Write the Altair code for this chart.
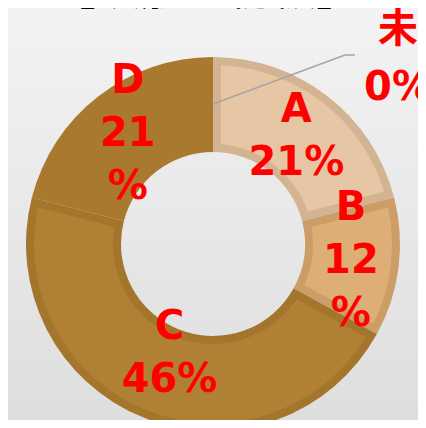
import altair as alt
import pandas as pd

# ---- data ----
categories = ["未", "A", "B", "C", "D"]
values = [0, 21, 12, 46, 21]
labels = ["未\n0%", "A\n21%", "B\n12\n%", "C\n46%", "D\n21\n%"]
title_text = "【鉄筋　初級】"

border_colors = ["#A6A6A6", "#D4B393", "#CC9D66", "#A3762C", "#A8792F"]
fill_colors = ["#A6A6A6", "#E6C6A4", "#DDAE75", "#B08034", "#A8792F"]

df = pd.DataFrame({
    "cat": categories,
    "value": values,
    "label": labels,
    "idx": list(range(len(categories))),
})

W, H = 410, 412
CX, CY = 205, 236
LH = 53
FONT = "DejaVu Sans, Noto Sans CJK JP"

bg = alt.Chart(pd.DataFrame({"a": [0]})).mark_rect(
    fill=alt.Gradient(
        gradient="linear",
        stops=[alt.GradientStop(color="#F3F3F3", offset=0),
               alt.GradientStop(color="#DEDEDE", offset=1)],
        x1=0, x2=0, y1=0, y2=1,
    )
).encode(x=alt.value(0), x2=alt.value(W), y=alt.value(0), y2=alt.value(H))

base = alt.Chart(df).encode(
    theta=alt.Theta("value:Q", stack=True),
    order=alt.Order("idx:Q"),
    x=alt.value(CX),
    y=alt.value(CY),
)

outer = base.mark_arc(innerRadius=92, outerRadius=187).encode(
    color=alt.Color("cat:N", scale=alt.Scale(domain=categories, range=border_colors), legend=None)
)

inner = base.mark_arc(innerRadius=100, outerRadius=179, padAngle=0.078).encode(
    fill=alt.Fill("cat:N", scale=alt.Scale(domain=categories, range=fill_colors), legend=None)
)

text_kw = dict(font=FONT, fontWeight="bold", fontSize=40,
               lineHeight=LH, lineBreak="\n", color="#FF0000",
               align="center", baseline="middle")

tbase = alt.Chart(df).transform_window(
    cum="sum(value)", sort=[alt.SortField("idx")],
    frame=[None, 0],
).transform_calculate(
    mid="datum.cum - datum.value / 2"
).encode(
    theta=alt.Theta("mid:Q", stack=None),
    x=alt.value(CX),
    y=alt.value(CY),
    text="label:N",
)

textA = tbase.transform_filter(alt.datum.cat == "A").mark_text(
    radius=136, dy=-LH / 2, **text_kw)
textC = tbase.transform_filter(alt.datum.cat == "C").mark_text(
    radius=118, dy=-LH / 2, **text_kw)
textBD = tbase.transform_filter(
    alt.FieldOneOfPredicate(field="cat", oneOf=["B", "D"])
).mark_text(radius=139, dy=-LH, **text_kw)

leader = alt.Chart(pd.DataFrame({"a": [0]})).mark_rule(
    color="#A6A6A6", strokeWidth=1.5
).encode(x=alt.value(205), y=alt.value(96), x2=alt.value(337), y2=alt.value(47))

leader2 = alt.Chart(pd.DataFrame({"a": [0]})).mark_rule(
    color="#A6A6A6", strokeWidth=1.5
).encode(x=alt.value(337), y=alt.value(47), x2=alt.value(347), y2=alt.value(47))

mi = alt.Chart(df).transform_filter(alt.datum.cat == "未").mark_text(
    font=FONT, fontWeight="bold", fontSize=40,
    lineHeight=58, lineBreak="\n", color="#FF0000",
    align="center", baseline="middle",
).encode(text="label:N", x=alt.value(390), y=alt.value(22))

title = alt.Chart(pd.DataFrame({"t": [title_text]})).mark_text(
    font="Noto Sans CJK JP", fontSize=44, color="#000000",
    align="center", baseline="alphabetic",
).encode(text="t:N", x=alt.value(198), y=alt.value(-3))

chart = alt.layer(bg, outer, inner, textA, textC, textBD, leader, leader2, mi, title).properties(
    width=W, height=H,
    autosize=alt.AutoSizeParams(type="none"),
    padding=0,
).configure_view(stroke=None).configure(background="#EAEAEA")

chart.save("out.html", embed_options={"renderer": "svg", "actions": False})
